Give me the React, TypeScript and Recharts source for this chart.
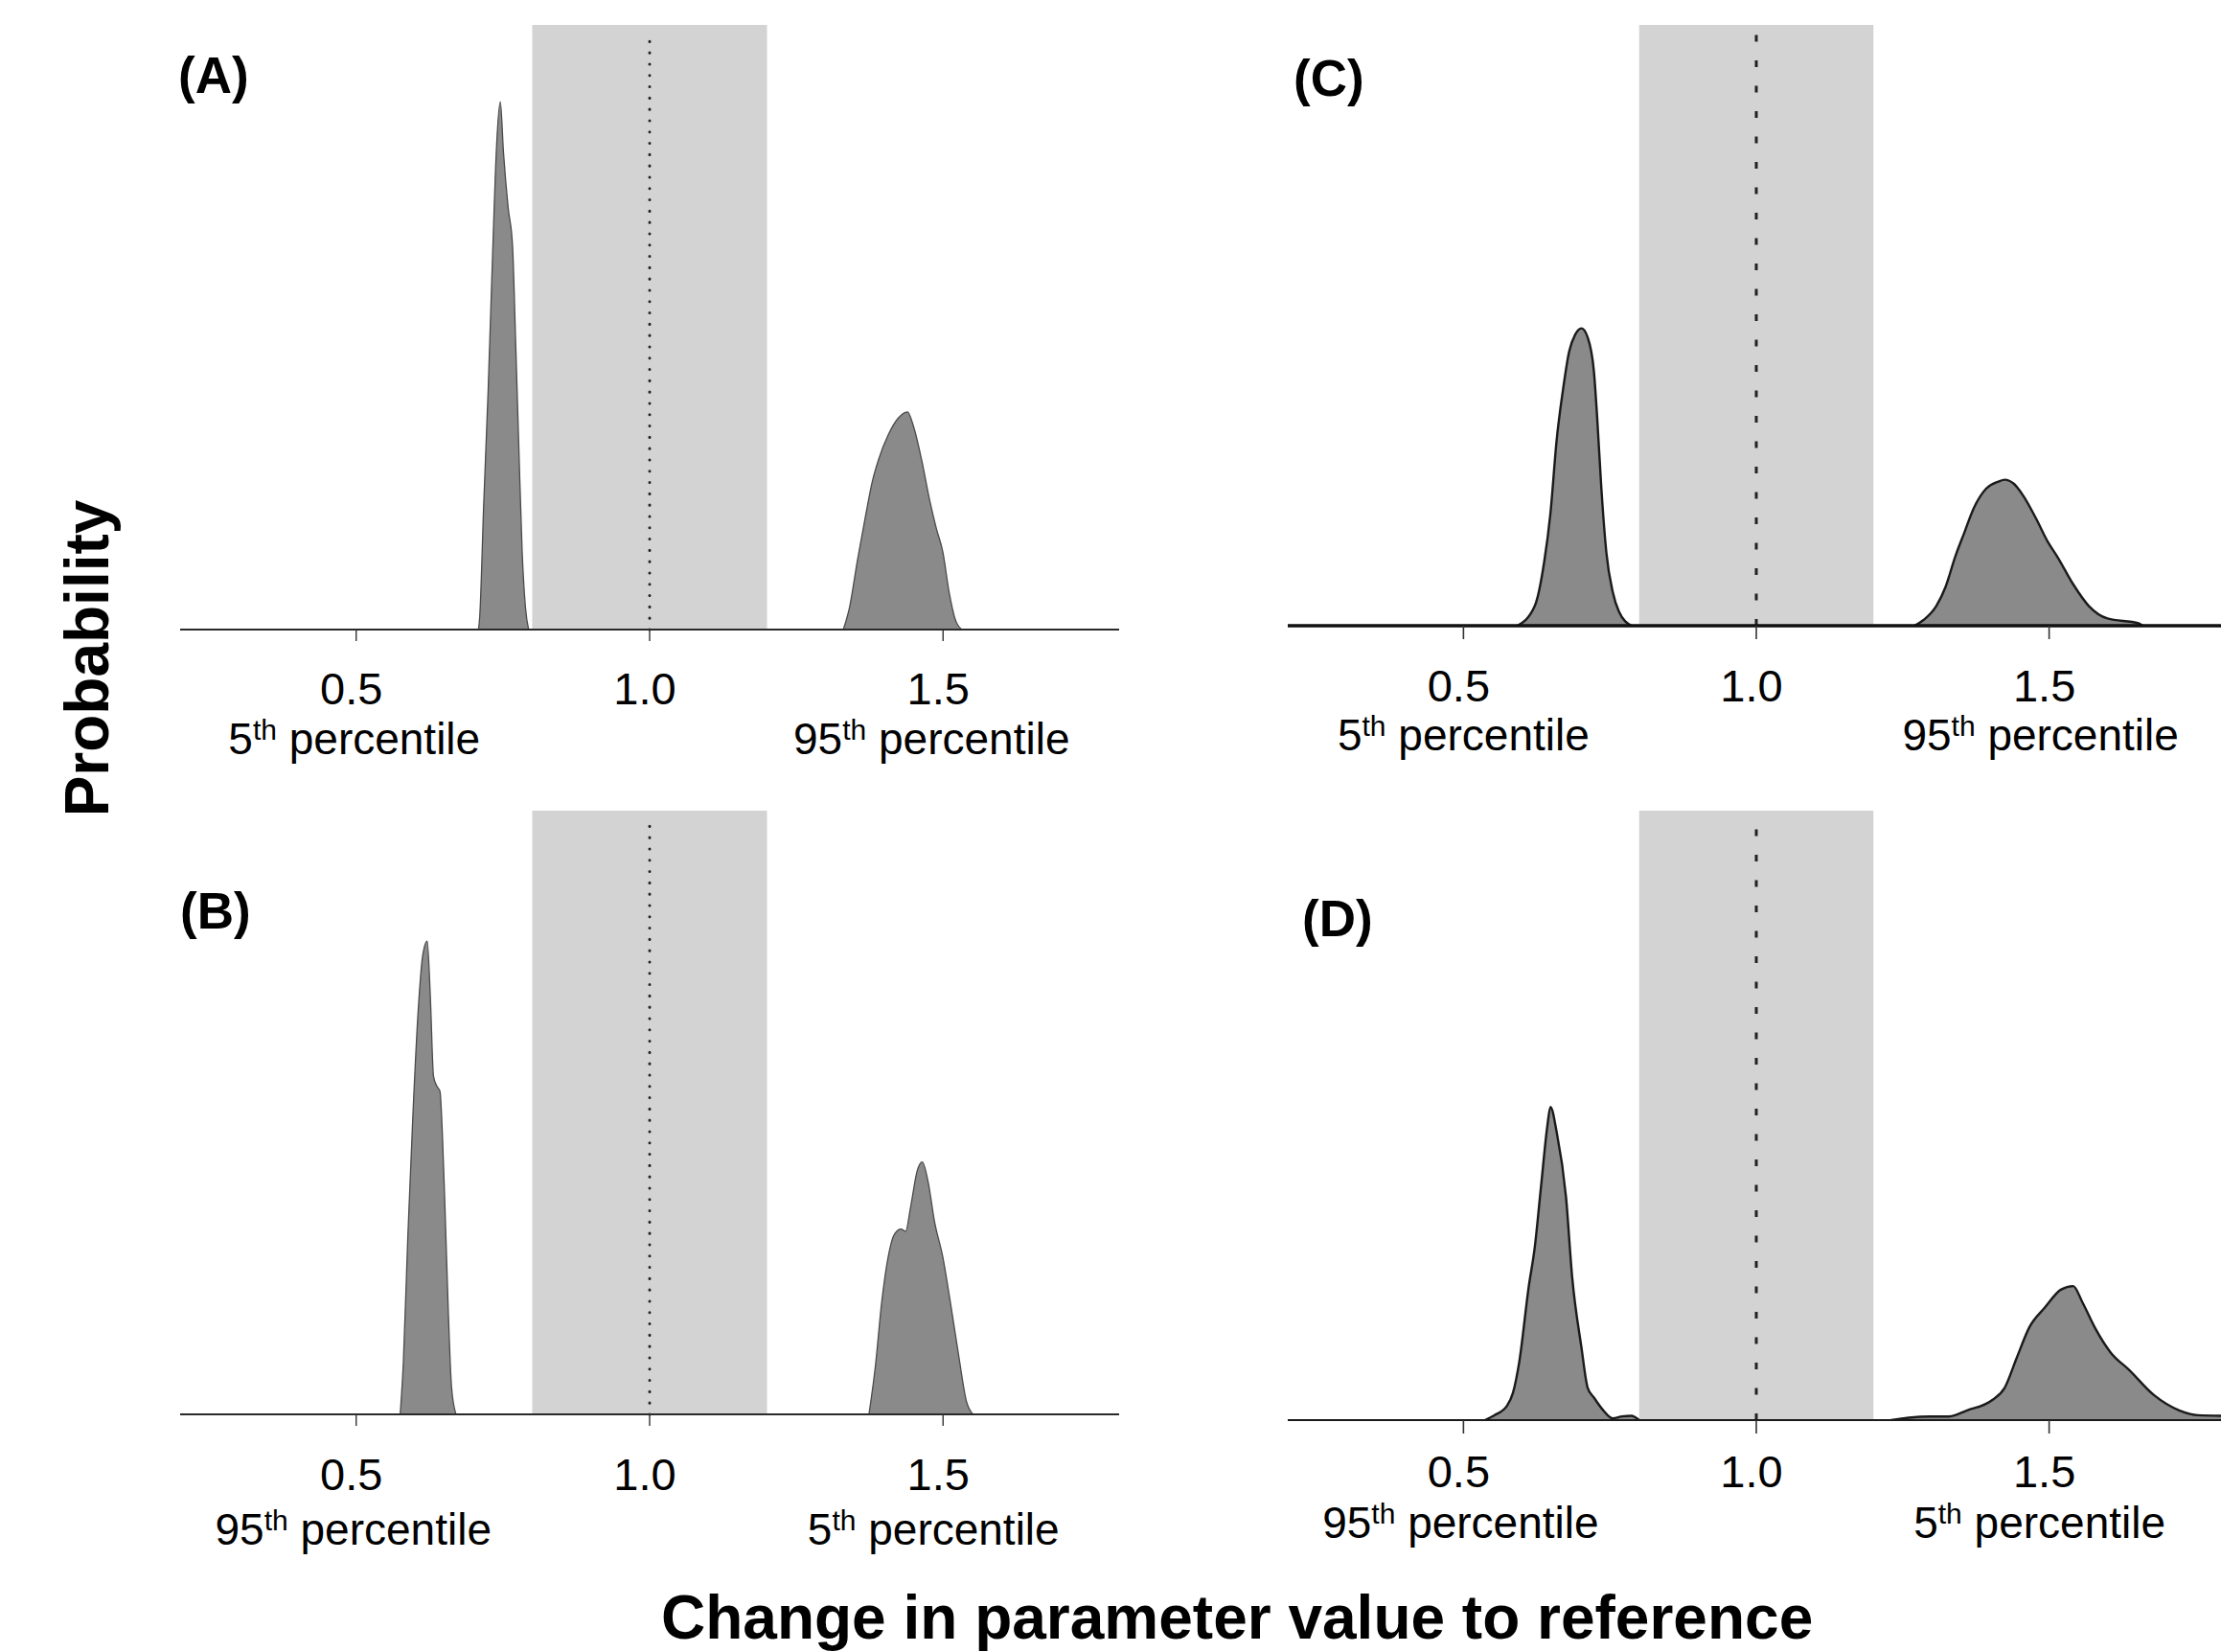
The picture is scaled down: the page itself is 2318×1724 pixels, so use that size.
import React from 'react';
import { ComposedChart, Area, XAxis, YAxis, ReferenceArea, ReferenceLine } from 'recharts';

// ---------- shared axis data ----------
const xDomain: [number, number] = [0.2, 1.8];
const xTicks = [0.5, 1.0, 1.5];
const xTickLabels = ['0.5', '1.0', '1.5'];
const bandRange: [number, number] = [0.8, 1.2];
const referenceValue = 1.0;

// percentile label under the 0.5 and 1.5 ticks
const pctTopRow = ['5', null, '95'];
const pctBottomRow = ['95', null, '5'];

const panelLabels = ['(A)', '(B)', '(C)', '(D)'];
const yTitle = 'Probability';
const xTitle = 'Change in parameter value to reference';

// ---------- panel A ----------
const aLowX = [0.7085, 0.7106, 0.7172, 0.7248, 0.7325, 0.739, 0.7456, 0.751, 0.7589, 0.7663, 0.7719, 0.7773, 0.7828, 0.7883, 0.7938];
const aLowY = [0, 0.023, 0.205, 0.394, 0.622, 0.796, 0.873, 0.789, 0.698, 0.637, 0.47, 0.296, 0.129, 0.038, 0];
const aHighX = [1.33, 1.3409, 1.354, 1.3683, 1.379, 1.39, 1.4066, 1.423, 1.4394, 1.4503, 1.4634, 1.4776, 1.4886, 1.4995, 1.5105, 1.5214, 1.532];
const aHighY = [0, 0.038, 0.114, 0.19, 0.243, 0.281, 0.322, 0.349, 0.36, 0.334, 0.281, 0.212, 0.167, 0.129, 0.061, 0.015, 0];

// ---------- panel B ----------
const bLowX = [0.575, 0.5804, 0.588, 0.5969, 0.6056, 0.6133, 0.621, 0.6263, 0.6318, 0.6373, 0.6428, 0.647, 0.6515, 0.657, 0.6624, 0.67];
const bLowY = [0, 0.087, 0.295, 0.502, 0.668, 0.76, 0.784, 0.693, 0.56, 0.544, 0.535, 0.461, 0.336, 0.17, 0.046, 0];
const bHighX = [1.3737, 1.3846, 1.3956, 1.4065, 1.4175, 1.4284, 1.4361, 1.4448, 1.4558, 1.4645, 1.4744, 1.4853, 1.4995, 1.5137, 1.527, 1.54, 1.551];
const bHighY = [0, 0.079, 0.187, 0.261, 0.299, 0.307, 0.303, 0.344, 0.403, 0.418, 0.386, 0.32, 0.261, 0.178, 0.095, 0.021, 0];

// ---------- panel C ----------
const cLowX = [0.592, 0.6218, 0.6378, 0.6485, 0.6591, 0.6697, 0.6804, 0.691, 0.7015, 0.7121, 0.7228, 0.7281, 0.7355, 0.744, 0.7547, 0.7653, 0.787];
const cLowY = [0, 0.033, 0.106, 0.187, 0.309, 0.391, 0.456, 0.485, 0.495, 0.48, 0.423, 0.35, 0.228, 0.122, 0.057, 0.024, 0];
const cHighX = [1.27, 1.2861, 1.3074, 1.3233, 1.3393, 1.3552, 1.371, 1.3923, 1.4136, 1.4242, 1.4401, 1.4561, 1.4774, 1.4987, 1.5146, 1.5411, 1.5677, 1.5996, 1.6527, 1.66];
const cHighY = [0, 0.01, 0.033, 0.065, 0.114, 0.155, 0.195, 0.228, 0.24, 0.243, 0.236, 0.216, 0.179, 0.138, 0.114, 0.069, 0.033, 0.012, 0.004, 0];

// ---------- panel D ----------
const dLowX = [0.5368, 0.5527, 0.574, 0.5846, 0.5952, 0.6113, 0.6218, 0.6324, 0.643, 0.6485, 0.6591, 0.6751, 0.6856, 0.7015, 0.7121, 0.7228, 0.7388, 0.7547, 0.7707, 0.7866, 0.8];
const dLowY = [0, 0.008, 0.023, 0.045, 0.095, 0.218, 0.284, 0.383, 0.481, 0.514, 0.473, 0.366, 0.235, 0.119, 0.053, 0.037, 0.016, 0.003, 0.006, 0.007, 0];
const dHighX = [1.23, 1.26, 1.296, 1.329, 1.36, 1.403, 1.424, 1.445, 1.466, 1.493, 1.52, 1.541, 1.557, 1.578, 1.605, 1.637, 1.679, 1.722, 1.754, 1.8];
const dHighY = [0, 0.004, 0.006, 0.006, 0.016, 0.033, 0.053, 0.103, 0.152, 0.185, 0.214, 0.22, 0.193, 0.152, 0.111, 0.082, 0.041, 0.016, 0.008, 0.007];

type Row = { x: number; lo?: number; hi?: number };
const buildRows = (lx: number[], ly: number[], hx: number[], hy: number[]): Row[] => {
  const rows: Row[] = [];
  lx.forEach((x, i) => rows.push({ x, lo: ly[i] }));
  hx.forEach((x, i) => rows.push({ x, hi: hy[i] }));
  return rows.sort((a, b) => a.x - b.x);
};

const FONT = '"Liberation Sans", Arial, Helvetica, sans-serif';

type PanelCfg = {
  rows: Row[];
  pct: (string | null)[];
  left: number; top: number; width: number; plotH: number;
  numOff: number; pctOff: number; pctDx: number[];
  axisStroke: string; axisW: number; tickW: number; tickLen: number;
  curveStroke: string; curveW: number;
  refDash: string; refW: number; refCap: 'round' | 'butt'; refTop: number;
};

const panels: PanelCfg[] = [
  {
    rows: buildRows(aLowX, aLowY, aHighX, aHighY), pct: pctTopRow,
    left: 188, top: 26, width: 980, plotH: 631, numOff: 78, pctOff: 130, pctDx: [-2, 0, -12],
    axisStroke: '#2a2a2a', axisW: 2, tickW: 1.4, tickLen: 12, curveStroke: '#4a4a4a', curveW: 1.3,
    refDash: '0.1 11.7', refW: 3, refCap: 'round', refTop: 0.99,
  },
  {
    rows: buildRows(bLowX, bLowY, bHighX, bHighY), pct: pctBottomRow,
    left: 188, top: 846, width: 980, plotH: 630, numOff: 79, pctOff: 136, pctDx: [-3, 0, -10],
    axisStroke: '#2a2a2a', axisW: 2, tickW: 1.4, tickLen: 12, curveStroke: '#4a4a4a', curveW: 1.3,
    refDash: '0.1 11.7', refW: 3, refCap: 'round', refTop: 0.99,
  },
  {
    rows: buildRows(cLowX, cLowY, cHighX, cHighY), pct: pctTopRow,
    left: 1344, top: 26, width: 978, plotH: 627, numOff: 79, pctOff: 130, pctDx: [0, 0, -9],
    axisStroke: '#111', axisW: 3.5, tickW: 1.6, tickLen: 14, curveStroke: '#1a1a1a', curveW: 2.4,
    refDash: '7 19.5', refW: 3, refCap: 'butt', refTop: 0.985,
  },
  {
    rows: buildRows(dLowX, dLowY, dHighX, dHighY), pct: pctBottomRow,
    left: 1344, top: 846, width: 978, plotH: 636, numOff: 70, pctOff: 123, pctDx: [-3, 0, -10],
    axisStroke: '#1a1a1a', axisW: 2.2, tickW: 1.6, tickLen: 14, curveStroke: '#1a1a1a', curveW: 2.4,
    refDash: '7 19.5', refW: 3, refCap: 'butt', refTop: 0.985,
  },
];

const AXIS_H = 170;

const makeTick = (cfg: PanelCfg) => (props: any) => {
  const { x, payload } = props;
  const idx = xTicks.findIndex((t) => Math.abs(t - Number(payload.value)) < 1e-9);
  if (idx < 0) return <g />;
  const pct = cfg.pct[idx];
  return (
    <g>
      <text x={x - 5} y={cfg.plotH + cfg.numOff} textAnchor="middle" fontFamily={FONT} fontSize={47} fill="#000">
        {xTickLabels[idx]}
      </text>
      {pct ? (
        <text x={x + cfg.pctDx[idx]} y={cfg.plotH + cfg.pctOff} textAnchor="middle" fontFamily={FONT} fontSize={46} fill="#000">
          <tspan>{pct}</tspan>
          <tspan fontSize={30} dy={-15}>th</tspan>
          <tspan dy={15}>{' percentile'}</tspan>
        </text>
      ) : null}
    </g>
  );
};

const Panel = ({ cfg }: { cfg: PanelCfg }) => (
  <div style={{ position: 'absolute', left: cfg.left, top: cfg.top }}>
    <ComposedChart
      width={cfg.width}
      height={cfg.plotH + AXIS_H}
      data={cfg.rows}
      margin={{ top: 0, right: 0, bottom: 0, left: 0 }}
    >
      <XAxis
        type="number"
        dataKey="x"
        domain={xDomain}
        ticks={xTicks}
        interval={0}
        height={AXIS_H}
        allowDataOverflow
        axisLine={{ stroke: cfg.axisStroke, strokeWidth: cfg.axisW }}
        tickLine={{ stroke: '#333', strokeWidth: cfg.tickW }}
        tickSize={cfg.tickLen}
        tickMargin={0}
        tick={makeTick(cfg)}
      />
      <YAxis hide width={0} domain={[0, 1]} type="number" allowDataOverflow />
      <ReferenceArea
        x1={bandRange[0]}
        x2={bandRange[1]}
        y1={0}
        y2={1}
        fill="#d3d3d3"
        fillOpacity={1}
        stroke="none"
        ifOverflow="visible"
      />
      <ReferenceLine
        segment={[{ x: referenceValue, y: 0 }, { x: referenceValue, y: cfg.refTop }]}
        stroke="#222"
        strokeWidth={cfg.refW}
        strokeDasharray={cfg.refDash}
        strokeLinecap={cfg.refCap}
        ifOverflow="visible"
      />
      <Area
        type="monotone"
        dataKey="lo"
        stroke={cfg.curveStroke}
        strokeWidth={cfg.curveW}
        fill="#8a8a8a"
        fillOpacity={1}
        dot={false}
        activeDot={false}
        connectNulls={false}
        isAnimationActive={false}
      />
      <Area
        type="monotone"
        dataKey="hi"
        stroke={cfg.curveStroke}
        strokeWidth={cfg.curveW}
        fill="#8a8a8a"
        fillOpacity={1}
        dot={false}
        activeDot={false}
        connectNulls={false}
        isAnimationActive={false}
      />
    </ComposedChart>
  </div>
);

const labelPos = [
  { x: 186, y: 97 },
  { x: 188, y: 969 },
  { x: 1350, y: 100 },
  { x: 1359, y: 977 },
];

export default function App() {
  return (
    <div
      style={{
        position: 'fixed',
        left: 0,
        top: 0,
        width: 2318,
        height: 1724,
        overflow: 'hidden',
        background: '#fff',
      }}
    >
      {panels.map((p, i) => (
        <Panel key={i} cfg={p} />
      ))}
      <svg
        width={2318}
        height={1724}
        style={{ position: 'absolute', left: 0, top: 0, pointerEvents: 'none' }}
      >
        {panelLabels.map((t, i) => (
          <text key={t} x={labelPos[i].x} y={labelPos[i].y} fontFamily={FONT} fontWeight="bold" fontSize={53} fill="#000">
            {t}
          </text>
        ))}
        <text
          x={113}
          y={687}
          transform="rotate(-90 113 687)"
          textAnchor="middle"
          fontFamily={FONT}
          fontWeight="bold"
          fontSize={64}
          fill="#000"
        >
          {yTitle}
        </text>
        <text x={690} y={1710} fontFamily={FONT} fontWeight="bold" fontSize={64} fill="#000">
          {xTitle}
        </text>
      </svg>
    </div>
  );
}
